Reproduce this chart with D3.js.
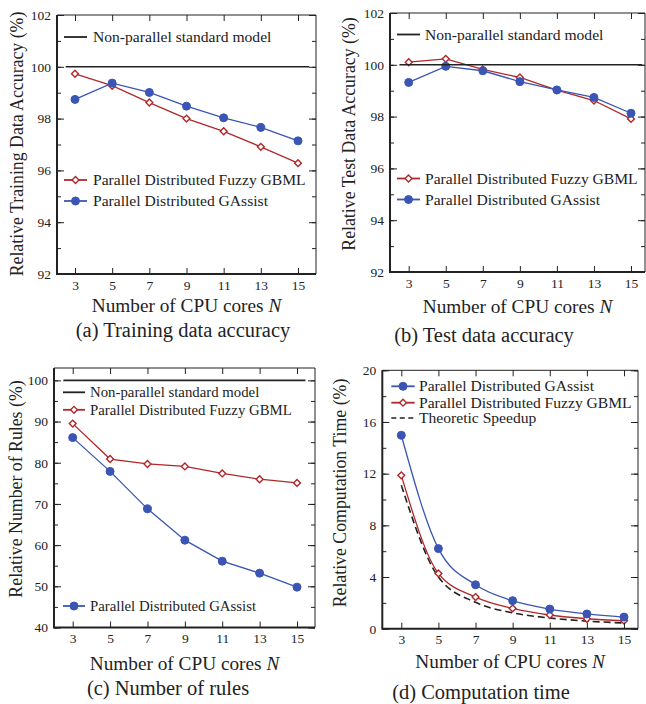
<!DOCTYPE html>
<html>
<head>
<meta charset="utf-8">
<script src="https://cdn.jsdelivr.net/npm/d3@7"></script>
<style>
  body { margin: 0; background: #fff; }
  svg { display: block; font-family: "Liberation Serif", "Times New Roman", serif; }
</style>
</head>
<body>
<svg id="chart" width="646" height="704"></svg>
<script>
// values
var cores = [3, 5, 7, 9, 11, 13, 15];
var baseline = 100;

var trainFuzzy   = [99.73, 99.27, 98.62, 98.00, 97.51, 96.91, 96.28];
var trainGAssist = [98.74, 99.37, 99.01, 98.48, 98.03, 97.66, 97.14];

var testFuzzy   = [100.10, 100.23, 99.82, 99.51, 99.02, 98.62, 97.91];
var testGAssist = [99.32, 99.94, 99.77, 99.35, 99.03, 98.74, 98.13];

var rulesFuzzy   = [89.5, 80.9, 79.7, 79.1, 77.4, 76.0, 75.1];
var rulesGAssist = [86.1, 77.9, 68.8, 61.2, 56.1, 53.2, 49.8];

var timeGAssist   = [14.97, 6.20, 3.40, 2.17, 1.52, 1.14, 0.90];
var timeFuzzy     = [11.87, 4.28, 2.45, 1.57, 1.06, 0.77, 0.62];
var timeTheoretic = [11.1, 4.0, 2.04, 1.23, 0.83, 0.59, 0.44];

var accTicks   = [92, 94, 96, 98, 100, 102];
var rulesTicks = [40, 50, 60, 70, 80, 90, 100];
var timeTicks  = [0, 4, 8, 12, 16, 20];

var nameBase   = "Non-parallel standard model";
var nameFuzzy  = "Parallel Distributed Fuzzy GBML";
var nameGA     = "Parallel Distributed GAssist";
var nameTheory = "Theoretic Speedup";

var RED = "#b0282a", BLUE = "#3a55b4", INK = "#222";

var svg = d3.select("#chart");

// one panel = frame box + scales + content
function panel(o) {
  var g = svg.append("g");
  var x = d3.scaleLinear().domain([3, 15]).range([o.x3, o.x15]);
  var y = d3.scaleLinear().domain(o.ydom).range([o.ybot, o.ytop]);

  // series
  o.series.forEach(function(s) {
    var line = d3.line()
      .x(function(d, i) { return x(cores[i]); })
      .y(function(d) { return y(d); })
      .curve(o.smooth ? d3.curveMonotoneX : d3.curveLinear);
    g.append("path").datum(s.values)
      .attr("d", line)
      .attr("fill", "none")
      .attr("stroke", s.color)
      .attr("stroke-width", s.dash ? 1.6 : 1.3)
      .attr("stroke-dasharray", s.dash ? "7,4" : null);
    if (s.marker) {
      s.values.forEach(function(d, i) { drawMarker(g, s, x(cores[i]), y(d)); });
    }
  });

  if (o.base) {
    g.append("line")
      .attr("x1", x(o.base[0])).attr("x2", x(o.base[1]))
      .attr("y1", y(baseline)).attr("y2", y(baseline))
      .attr("stroke", INK).attr("stroke-width", 1.6);
  }

  // frame
  var L = o.left, R = o.right, T = o.top, B = o.bottom;
  g.append("line").attr("x1", L).attr("x2", R).attr("y1", T).attr("y2", T)
    .attr("stroke", INK).attr("stroke-width", 1);
  g.append("line").attr("x1", R).attr("x2", R).attr("y1", T).attr("y2", B)
    .attr("stroke", INK).attr("stroke-width", 1);

  // y ticks left (labels) and right (mirrored), inward
  var minor = d3.range(o.ydom[0], o.ytopVal + 1e-9, o.minor);
  g.append("g").attr("transform", "translate(" + L + ",0)")
    .call(d3.axisLeft(y).tickValues(minor).tickSize(-4).tickFormat(""))
    .call(function(a) { a.select(".domain").remove(); });
  g.append("g").attr("transform", "translate(" + L + ",0)")
    .call(d3.axisLeft(y).tickValues(o.yticks).tickSize(-7).tickPadding(6))
    .call(function(a) {
      a.select(".domain").remove();
      a.selectAll("text").attr("font-size", 13.5).attr("fill", INK)
        .attr("font-family", "Liberation Serif");
    });
  g.append("g").attr("transform", "translate(" + R + ",0)")
    .call(d3.axisRight(y).tickValues(minor).tickSize(-4).tickFormat(""))
    .call(function(a) { a.select(".domain").remove(); });
  g.append("g").attr("transform", "translate(" + R + ",0)")
    .call(d3.axisRight(y).tickValues(o.yticks).tickSize(-7).tickFormat(""))
    .call(function(a) { a.select(".domain").remove(); });

  // x ticks bottom (labels) and top, inward
  g.append("g").attr("transform", "translate(0," + B + ")")
    .call(d3.axisBottom(x).tickValues(cores).tickSize(-6).tickPadding(6))
    .call(function(a) {
      a.select(".domain").remove();
      a.selectAll("text").attr("font-size", 13.5).attr("fill", INK)
        .attr("font-family", "Liberation Serif");
    });
  g.append("g").attr("transform", "translate(0," + T + ")")
    .call(d3.axisTop(x).tickValues(cores).tickSize(-6).tickFormat(""))
    .call(function(a) { a.select(".domain").remove(); });
  g.selectAll(".tick line").attr("stroke", INK);

  // thick left and bottom spines
  g.append("path").attr("d", "M" + L + "," + T + "V" + B + "H" + R)
    .attr("fill", "none").attr("stroke", INK).attr("stroke-width", 2);

  // titles
  g.append("text")
    .attr("transform", "translate(" + o.ytitle[0] + "," + o.ytitle[1] + ") rotate(-90)")
    .attr("text-anchor", "middle").attr("font-size", 17.8).attr("fill", INK)
    .text(o.ylabel);
  var xt = g.append("text").attr("x", (L + R) / 2).attr("y", o.xtitleY)
    .attr("text-anchor", "middle").attr("font-size", 19.3).attr("fill", INK);
  xt.append("tspan").text("Number of CPU cores ");
  xt.append("tspan").attr("font-style", "italic").text("N");
  g.append("text").attr("x", o.capX).attr("y", o.capY)
    .attr("text-anchor", "middle").attr("font-size", 20.5).attr("fill", INK)
    .text(o.caption);

  // legend
  o.legend.forEach(function(it) {
    var s = it.s, ly = it.y;
    g.append("line").attr("x1", L + o.lg[0]).attr("x2", L + o.lg[1])
      .attr("y1", ly).attr("y2", ly)
      .attr("stroke", s.color).attr("stroke-width", s.dash ? 1.6 : 1.8)
      .attr("stroke-dasharray", s.dash ? "5,3.5" : null);
    if (s.marker) drawMarker(g, s, L + (o.lg[0] + o.lg[1]) / 2, ly);
    g.append("text").attr("x", L + o.lg[2]).attr("y", ly).attr("dy", "0.33em")
      .attr("font-size", o.lgFont || 15.6).attr("fill", INK).text(s.name);
  });
}

function drawMarker(g, s, cx, cy) {
  if (s.marker === "circle") {
    g.append("circle").attr("cx", cx).attr("cy", cy).attr("r", 4)
      .attr("fill", s.color).attr("stroke", s.color);
  } else {
    g.append("path").attr("d", d3.symbol(d3.symbolDiamond2, 30)())
      .attr("transform", "translate(" + cx + "," + cy + ")")
      .attr("fill", "#fff").attr("stroke", s.color).attr("stroke-width", 1.4);
  }
}

var sBase = { name: nameBase, color: INK };
function fuzzy(v) { return { name: nameFuzzy, color: RED, marker: "diamond", values: v }; }
function gassist(v) { return { name: nameGA, color: BLUE, marker: "circle", values: v }; }

// (a)
var aF = fuzzy(trainFuzzy), aG = gassist(trainGAssist);
panel({
  left: 57, right: 316, top: 15, bottom: 274,
  x3: 75, x15: 298, ydom: [92, 102], ytopVal: 102, ybot: 274, ytop: 15,
  yticks: accTicks, minor: 1, base: [2.5, 15.6],
  series: [aF, aG],
  ylabel: "Relative Training Data Accuracy (%)", ytitle: [23, 144],
  xtitleY: 312, capX: 183, capY: 337, caption: "(a) Training data accuracy",
  lg: [7, 30, 36],
  legend: [{ s: sBase, y: 37 }, { s: aF, y: 180 }, { s: aG, y: 201 }]
});

// (b)
var bF = fuzzy(testFuzzy), bG = gassist(testGAssist);
panel({
  left: 390, right: 645, top: 13, bottom: 272,
  x3: 408.7, x15: 631, ydom: [92, 102], ytopVal: 102, ybot: 272, ytop: 13,
  yticks: accTicks, minor: 1, base: [2.5, 15.6],
  series: [bF, bG],
  ylabel: "Relative Test Data Accuracy (%)", ytitle: [355, 134],
  xtitleY: 312.5, capX: 484, capY: 342, caption: "(b) Test data accuracy",
  lg: [7, 30, 35],
  legend: [{ s: sBase, y: 34.5 }, { s: bF, y: 178.5 }, { s: bG, y: 199.5 }]
});

// (c)
var cF = fuzzy(rulesFuzzy), cG = gassist(rulesGAssist);
panel({
  left: 54, right: 315, top: 368, bottom: 627.5,
  x3: 72.7, x15: 297, ydom: [40, 103], ytopVal: 100, ybot: 627.5, ytop: 368,
  yticks: rulesTicks, minor: 5, base: [2.5, 15.45],
  series: [cF, cG],
  ylabel: "Relative Number of Rules (%)", ytitle: [21.5, 489],
  xtitleY: 669.5, capX: 168, capY: 695, caption: "(c) Number of rules",
  lg: [9, 31, 36], lgFont: 14.8,
  legend: [{ s: sBase, y: 392.3 }, { s: cF, y: 409.8 }, { s: cG, y: 606 }]
});

// (d)
var dG = gassist(timeGAssist), dF = fuzzy(timeFuzzy);
var dT = { name: nameTheory, color: INK, dash: true, values: timeTheoretic };
panel({
  left: 382.3, right: 638, top: 370.3, bottom: 628.7,
  x3: 401.3, x15: 624, ydom: [0, 20], ytopVal: 20, ybot: 628.7, ytop: 370.3,
  yticks: timeTicks, minor: 2, base: null, smooth: true,
  series: [dT, dF, dG],
  ylabel: "Relative Computation Time (%)", ytitle: [346, 493],
  xtitleY: 668, capX: 481, capY: 699, caption: "(d) Computation time",
  lg: [9, 32.4, 36.7],
  legend: [{ s: dG, y: 386.3 }, { s: dF, y: 402.7 }, { s: dT, y: 418 }]
});
</script>
</body>
</html>
